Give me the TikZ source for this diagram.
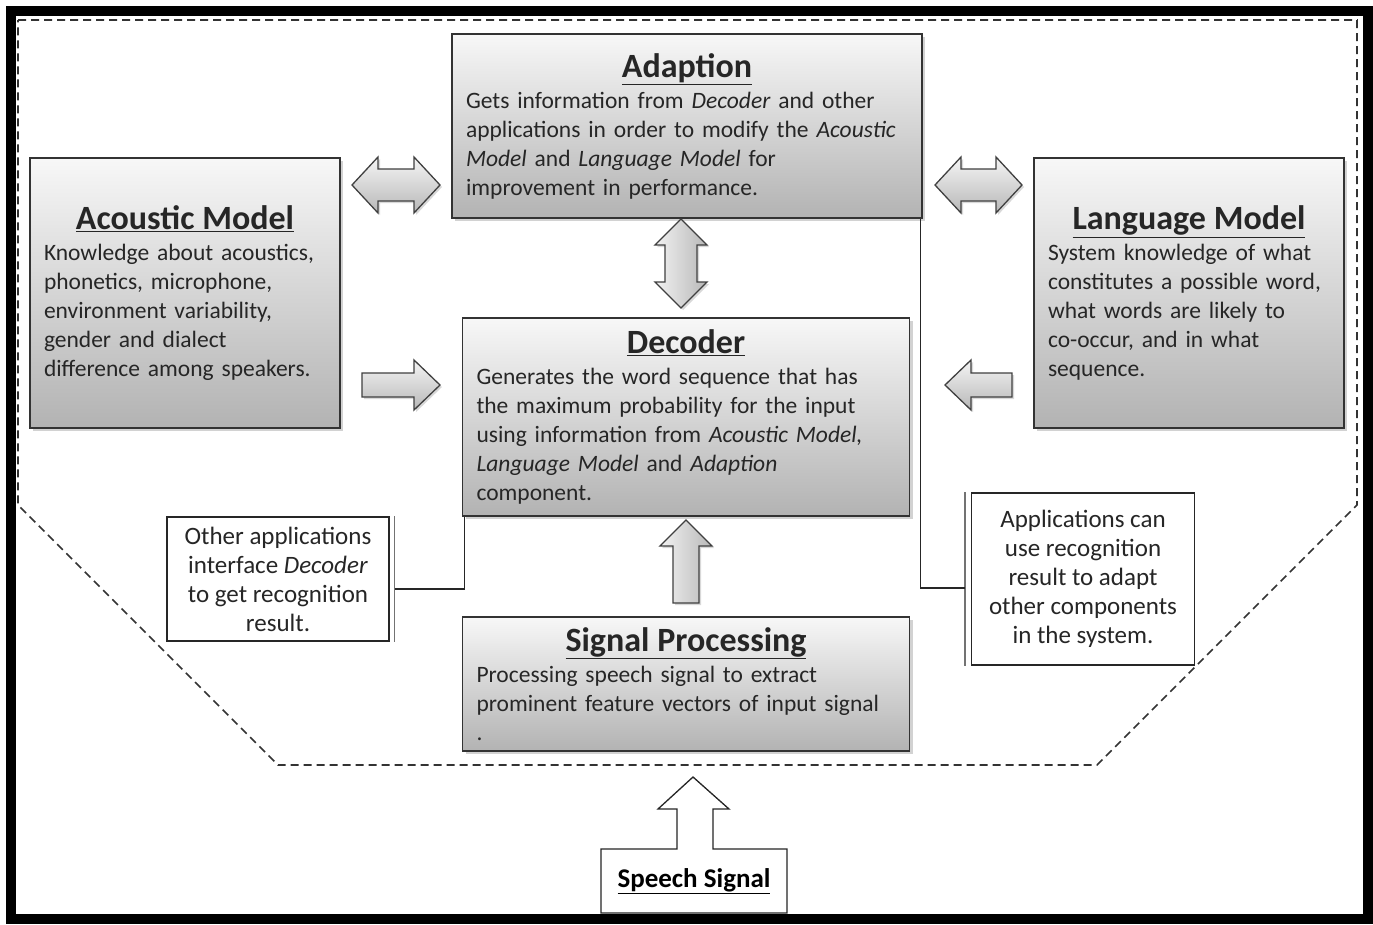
\documentclass[tikz,border=0pt]{standalone}
\usepackage{fontspec}
\setmainfont{Carlito}
\usetikzlibrary{shadows}

\newcommand{\ttl}[1]{{\fontsize{34}{40}\selectfont\bfseries\underline{#1}}}

\begin{document}
\begin{tikzpicture}[x=1pt, y=-1pt,
        box/.style={rectangle, draw=black!80, line width=1.5pt, top color=black!3, bottom color=black!30,
            drop shadow={shadow xshift=3pt, shadow yshift=-3pt, opacity=0.35},
            inner xsep=14pt, inner ysep=0pt, align=left, text=black!85, font=\fontsize{23.5}{29}\selectfont},
        callout/.style={rectangle, draw=black!85, line width=1.3pt, fill=white, align=center,
            text=black!85, font=\fontsize{25}{29}\selectfont},
        blockarrow/.style={draw=black!75, line width=1.3pt, top color=black!4, bottom color=black!28,
            drop shadow={shadow xshift=2pt, shadow yshift=-2pt, opacity=0.3}},
        vblockarrow/.style={blockarrow, left color=black!5, right color=black!28},
        bar/.style={draw=black!55, line width=1.5pt},
        link/.style={draw=black!85, line width=1.2pt}
    ]
        \useasboundingbox (0,0) rectangle (1373,924);
        \fill[white] (0,0) rectangle (1373,924);

        % Outer frame and system boundary
        \draw[line width=10pt] (11,11) rectangle (1368,919);
        \draw[black!80, line width=1.6pt, dash pattern=on 8pt off 5pt]
            (18,20) -- (1357,20) -- (1357,505) -- (1097,765) -- (278,765) -- (18,505) -- cycle;

        % Components
        \node[box, minimum width=470, minimum height=184, text width=442] (adapt) at (687,126)
            {\makebox[\hsize]{\ttl{Adaption}}\\[2pt]
             Gets information from \textit{Decoder} and other\\
             applications in order to modify the \textit{Acoustic}\\
             \textit{Model} and \textit{Language Model} for\\
             improvement in performance.};
        \node[box, minimum width=310, minimum height=270, text width=282] (acou) at (185,293)
            {\makebox[\hsize]{\ttl{Acoustic Model}}\\[2pt]
             Knowledge about acoustics,\\
             phonetics, microphone,\\
             environment variability,\\
             gender and dialect\\
             difference among speakers.};
        \node[box, minimum width=310, minimum height=270, text width=282] (lang) at (1189,293)
            {\makebox[\hsize]{\ttl{Language Model}}\\[2pt]
             System knowledge of what\\
             constitutes a possible word,\\
             what words are likely to\\
             co-occur, and in what\\
             sequence.};
        \node[box, minimum width=447, minimum height=198, text width=419] (dec) at (686,417)
            {\makebox[\hsize]{\ttl{Decoder}}\\[2pt]
             Generates the word sequence that has\\
             the maximum probability for the input\\
             using information from \textit{Acoustic Model,}\\
             \textit{Language Model} and \textit{Adaption}\\
             component.};
        \node[box, minimum width=447, minimum height=134, text width=419] (sig) at (686,684)
            {\makebox[\hsize]{\ttl{Signal Processing}}\\[2pt]
             Processing speech signal to extract\\
             prominent feature vectors of input signal\\
             .};

        % Notes
        \node[callout, minimum width=222, minimum height=124] (lcall) at (278,579)
            {Other applications\\ interface \textit{Decoder}\\ to get recognition\\ result.};
        \node[callout, minimum width=223, minimum height=172] (rcall) at (1083,579)
            {Applications can\\ use recognition\\ result to adapt\\ other components\\ in the system.};
        \draw[bar] ([xshift=5pt]lcall.north east) -- ([xshift=5pt]lcall.south east);
        \draw[bar] ([xshift=-6pt]rcall.north west) -- ([xshift=-6pt]rcall.south west);
        \draw[link] ([xshift=5pt, yshift=-10pt]lcall.east) -| ([xshift=3pt]dec.south west);
        \draw[link] ([xshift=-6pt, yshift=-9pt]rcall.west) -| ([xshift=-2pt]adapt.south east);

        % Block arrows
        \draw[blockarrow] (352,185) -- (378,157) -- (378,169) -- (414,169) -- (414,157) -- (440,185)
            -- (414,213) -- (414,201) -- (378,201) -- (378,213) -- cycle;
        \draw[blockarrow] (935,185) -- (961,157) -- (961,169) -- (996,169) -- (996,157) -- (1022,185)
            -- (996,213) -- (996,201) -- (961,201) -- (961,213) -- cycle;
        \draw[vblockarrow] (681,219) -- (707,245) -- (697,245) -- (697,282) -- (707,282) -- (681,308)
            -- (655,282) -- (665,282) -- (665,245) -- (655,245) -- cycle;
        \draw[blockarrow] (362,373) -- (414,373) -- (414,360) -- (440,385) -- (414,410) -- (414,397)
            -- (362,397) -- cycle;
        \draw[blockarrow] (1012,373) -- (971,373) -- (971,360) -- (945,385) -- (971,410) -- (971,397)
            -- (1012,397) -- cycle;
        \draw[vblockarrow] (686,520) -- (712,546) -- (699,546) -- (699,603) -- (673,603) -- (673,546)
            -- (660,546) -- cycle;

        % Input
        \draw[fill=white, draw=black!85, line width=1.3pt] (601,849) -- (677,849) -- (677,809) -- (658,809)
            -- (693,777) -- (729,809) -- (713,809) -- (713,849) -- (787,849) -- (787,913) -- (601,913) -- cycle;
        \node[font=\fontsize{27}{32}\selectfont\bfseries] (speech) at (694,881) {\underline{Speech Signal}};
    \end{tikzpicture}
\end{document}
